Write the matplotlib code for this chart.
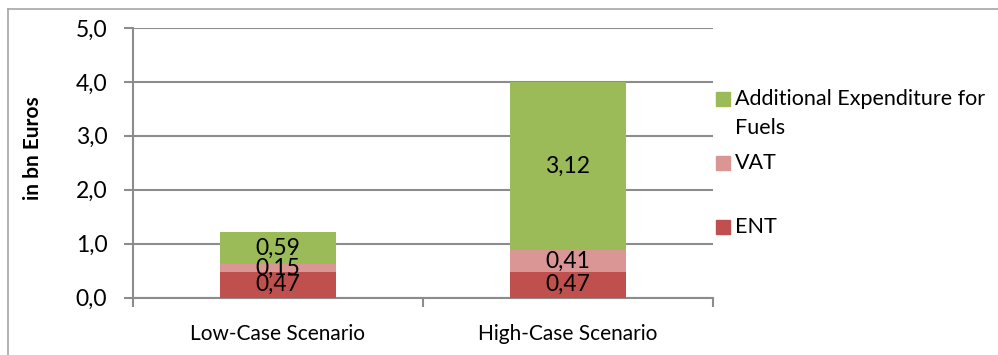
import numpy as np
import matplotlib.pyplot as plt
from matplotlib.patches import Rectangle
from matplotlib.lines import Line2D

plt.rcParams["font.family"] = ["Lato", "DejaVu Sans"]

scenarios = ["Low-Case Scenario", "High-Case Scenario"]
ent = [0.47, 0.47]
vat = [0.15, 0.41]
fuels = [0.59, 3.12]
yticks = [0, 1, 2, 3, 4, 5]

c_ent = "#C0504D"
c_vat = "#DA9694"
c_fuel = "#9BBB59"
grid_c = "#8C8C8C"

fig = plt.figure(figsize=(9.98, 3.55), dpi=100)
W, H = 998, 355
ax = fig.add_axes([133 / W, 1 - 297.5 / H, 580 / W, 269.5 / H])

idx = np.arange(len(scenarios))
w = 0.4
b_ent = ax.bar(idx, ent, width=w, color=c_ent, zorder=3)
b_vat = ax.bar(idx, vat, width=w, bottom=ent, color=c_vat, zorder=3)
bot = np.array(ent) + np.array(vat)
b_fuel = ax.bar(idx, fuels, width=w, bottom=bot, color=c_fuel, zorder=3)

def fmt(v, n=2):
    return f"{v:.{n}f}".replace(".", ",")

for bars, vals in [(b_ent, ent), (b_vat, vat), (b_fuel, fuels)]:
    ax.bar_label(bars, labels=[fmt(v) for v in vals], label_type="center",
                 fontsize=16.5, color="black", zorder=4)

ax.set_xlim(-0.5, 1.5)
ax.set_ylim(0, 5)
ax.set_yticks(yticks)
ax.set_yticklabels([fmt(v, 1) for v in yticks], fontsize=16.5)
ax.set_xticks(idx)
ax.set_xticklabels(scenarios, fontsize=15)
ax.set_xticks([-0.5, 0.5, 1.5], minor=True)
ax.tick_params(axis="x", which="major", length=0, pad=19)
ax.tick_params(axis="x", which="minor", length=6.5, width=1.5, color=grid_c)
ax.tick_params(axis="y", length=6.5, width=1.5, color=grid_c, pad=12)
ax.yaxis.grid(True, color=grid_c, linewidth=1.5, zorder=0)
ax.set_axisbelow(True)
for s in ["top", "right"]:
    ax.spines[s].set_visible(False)
for s in ["left", "bottom"]:
    ax.spines[s].set_color(grid_c)
    ax.spines[s].set_linewidth(1.5)
fig.text(33 / W, 1 - 148 / H, "in bn Euros", fontsize=15, fontweight="bold",
         rotation=90, ha="center", va="center")

# legend drawn by hand, Excel style
entries = [(c_fuel, "Additional Expenditure for", 99), (None, "Fuels", 128),
           (c_vat, "VAT", 163), (c_ent, "ENT", 227)]
for col, txt, yc in entries:
    if col is not None:
        fig.patches.append(Rectangle((716 / W, 1 - (yc + 7) / H), 14 / W, 14 / H,
                                     transform=fig.transFigure, color=col))
    fig.text(735 / W, 1 - yc / H, txt, fontsize=15.5, va="center", ha="left")

# chart frame
fig.add_artist(Line2D([8 / W, 8 / W], [0, 1 - 9 / H], transform=fig.transFigure,
                      color="#A6A6A6", linewidth=1.2))
fig.add_artist(Line2D([8 / W, 1], [1 - 9 / H, 1 - 9 / H], transform=fig.transFigure,
                      color="#A6A6A6", linewidth=1.2))

fig.savefig("out.png", dpi=100)
